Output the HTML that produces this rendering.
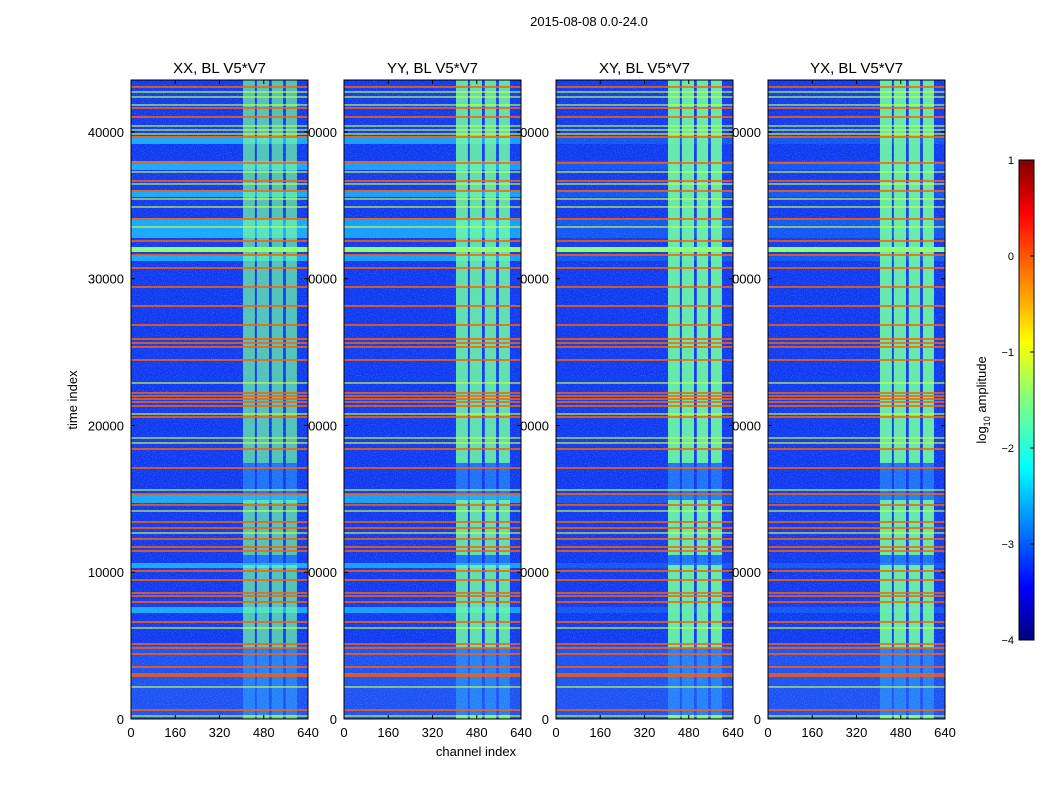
<!DOCTYPE html>
<html><head><meta charset="utf-8"><style>
body{margin:0;background:#fff;}
svg text{font-family:"Liberation Sans",sans-serif;}
</style></head><body>
<svg id="fig" width="1050" height="800" xmlns="http://www.w3.org/2000/svg">
<defs>
<filter id="noise" x="0" y="0" width="100%" height="100%">
<feTurbulence type="fractalNoise" baseFrequency="0.9" numOctaves="1" seed="3"/>
<feColorMatrix type="matrix" values="0 0 0 0 0.2  0 0 0 0 0.6  0 0 0 0 1  0 0 0 1.6 -0.75"/>
</filter>
<linearGradient id="jet" x1="0" y1="1" x2="0" y2="0">
<stop offset="0" stop-color="#00007f"/><stop offset="0.11" stop-color="#0000ff"/>
<stop offset="0.36" stop-color="#00ffff"/><stop offset="0.5" stop-color="#7fff7f"/>
<stop offset="0.62" stop-color="#ffff00"/><stop offset="0.89" stop-color="#ff0000"/>
<stop offset="1" stop-color="#7f0000"/>
</linearGradient>
</defs>
<text x="589" y="26" font-size="13" text-anchor="middle">2015-08-08 0.0-24.0</text>
<text transform="translate(77,400) rotate(-90)" font-size="13" text-anchor="middle">time index</text>
<text x="476" y="756" font-size="13" text-anchor="middle">channel index</text>
<g id="panels"></g>
<g>
<rect x="1019" y="160" width="15" height="480" fill="url(#jet)" stroke="#000" stroke-width="1"/>
<g id="cbticks"></g>
<text transform="translate(986,400) rotate(-90)" font-size="13" text-anchor="middle">log<tspan font-size="9" dy="4">10</tspan><tspan dy="-4"> amplitude</tspan></text>
</g>
</svg>
<script>
const panelTitles = ["XX, BL V5*V7","YY, BL V5*V7","XY, BL V5*V7","YX, BL V5*V7"];
const xTicks = [0,160,320,480,640];
const yTicks = [0,10000,20000,30000,40000];
const cbTicks = [1,0,-1,-2,-3,-4];
const orangeRows = [43065,41634,41021,39658,37886,36660,35978,34070,32571,31617,30731,29436,28141,26847,25893,25620,25348,24462,22214,22010,21805,21601,21328,20579,18398,17103,15332,14582,13424,13015,12265,11720,11448,10085,9471,8586,8381,7972,6610,5111,4838,4429,3543,3066,2930,613];
const yellowRows = [42724,42383,41838,40407,40134,39862,37273,36455,35433,34888,33525,22895,20783,19147,18807,15604,14173,12674,6201,2181,204];
const cyanBands = [[39181,39726],[37409,38022],[35570,36046],[32775,34138],[31208,31617],[14718,15332],[10289,10630],[7223,7632]];
const greenBands = [[31822,32162]];
const channelBands = [[405,448],[455,499],[509,550],[560,600]];
const bandGaps = [[14922,17444],[10494,11175],[272,4838]];
const panelCyan = [1,0.9,0.25,0.25];
const panelBand = [0.7,0.85,0.9,0.9];
const panelLeft = [131,344,556,768];
const W=177, yTop=80, yBottom=719, tMax=43540, cMax=640;
const NS="http://www.w3.org/2000/svg";
function mk(tag,attrs,parent){const e=document.createElementNS(NS,tag);for(const k in attrs)e.setAttribute(k,attrs[k]);parent.appendChild(e);return e;}
function yS(t){return yBottom-(t/tMax)*(yBottom-yTop);}
const root=document.getElementById('panels');
panelLeft.forEach((x0,p)=>{
  const xS=c=>x0+c/cMax*W;
  yTicks.forEach(t=>{
    const tx=mk('text',{x:x0-7,y:yS(t)+5,'font-size':13,'text-anchor':'end'},root);
    tx.textContent=t;
    
    
  });
  xTicks.forEach(c=>{
    const tx=mk('text',{x:xS(c),y:yBottom+18,'font-size':13,'text-anchor':'middle'},root);
    tx.textContent=c;
    
    
  });
});
panelLeft.forEach((x0,p)=>{
  const xS=c=>x0+c/cMax*W;
  const g=mk('g',{},root);
  
  
  mk('rect',{x:x0,y:yTop,width:W,height:yBottom-yTop,fill:'#1038f0'},g);
  mk('rect',{x:x0,y:yS(5000),width:W,height:yS(0)-yS(5000),fill:'#2a68f8',opacity:0.5},g);
  cyanBands.forEach(b=>{
    const r=mk('rect',{x:x0,y:yS(b[1]),width:W,height:yS(b[0])-yS(b[1]),fill:'#18a8ff',opacity:panelCyan[p]},g);
    
  });
  channelBands.forEach(cb=>{
    let segs=[[0,tMax]];
    bandGaps.forEach(gp=>{const n=[];segs.forEach(s=>{if(gp[1]<=s[0]||gp[0]>=s[1])n.push(s);else{if(gp[0]>s[0])n.push([s[0],gp[0]]);if(gp[1]<s[1])n.push([gp[1],s[1]]);}});segs=n;});
    segs.forEach(s=>{
      const r=mk('rect',{x:xS(cb[0]),y:yS(s[1]),width:xS(cb[1])-xS(cb[0]),height:yS(s[0])-yS(s[1]),fill:'#70ffa0',opacity:panelBand[p]},g);
      
    });
    bandGaps.forEach(gp=>{
      mk('rect',{x:xS(cb[0]),y:yS(gp[1]),width:xS(cb[1])-xS(cb[0]),height:yS(gp[0])-yS(gp[1]),fill:'#30b8ff',opacity:0.45},g);
    });
  });
  mk('rect',{x:x0,y:yTop,width:W,height:yBottom-yTop,filter:'url(#noise)',opacity:0.6},g);
  greenBands.forEach(b=>{
    const r=mk('rect',{x:x0,y:yS(b[1]),width:W,height:yS(b[0])-yS(b[1]),fill:'#90ff70'},g);
    
  });
  yellowRows.forEach(t=>{
    const r=mk('rect',{x:x0,y:yS(t)-0.6,width:W,height:1.2,fill:'#c8ff40'},g);
    
  });
  orangeRows.forEach(t=>{
    const r=mk('rect',{x:x0,y:yS(t)-0.8,width:W,height:1.6,fill:'#ff6000'},g);
    
  });
  mk('rect',{x:x0,y:yTop,width:W,height:yBottom-yTop,fill:'none',stroke:'#000','stroke-width':1},g);
  xTicks.forEach(c=>{mk('line',{x1:xS(c),x2:xS(c),y1:yBottom,y2:yBottom-4,stroke:'#000'},g);mk('line',{x1:xS(c),x2:xS(c),y1:yTop,y2:yTop+4,stroke:'#000'},g);});
  yTicks.forEach(t=>{mk('line',{x1:x0,x2:x0+4,y1:yS(t),y2:yS(t),stroke:'#000'},g);mk('line',{x1:x0+W,x2:x0+W-4,y1:yS(t),y2:yS(t),stroke:'#000'},g);});
  const tt=mk('text',{x:x0+W/2,y:73,'font-size':15,'text-anchor':'middle'},g);
  tt.textContent=panelTitles[p];
  
  
});
const cbg=document.getElementById('cbticks');
cbTicks.forEach(v=>{
  const y=160+(1-v)/5*480;
  mk('line',{x1:1030,x2:1034,y1:y,y2:y,stroke:'#000'},cbg);
  const tx=mk('text',{x:1014,y:y+4,'font-size':11,'text-anchor':'end'},cbg);
  tx.textContent=v<0?'\u2212'+(-v):String(v);
  
  
});
</script>
</body></html>
